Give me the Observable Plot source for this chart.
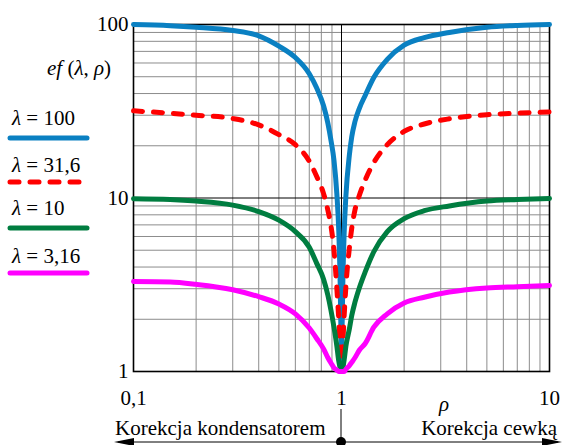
<!DOCTYPE html>
<html>
<head>
<meta charset="utf-8">
<script src="https://cdn.jsdelivr.net/npm/d3@7"></script>
<script src="https://cdn.jsdelivr.net/npm/@observablehq/plot@0.6"></script>
<style>
  html, body { margin: 0; padding: 0; background: #fff; }
  #chart { width: 562px; height: 445px; overflow: hidden; }
  #chart svg, #chart svg text, #chart svg tspan { font-family: "Liberation Serif", "DejaVu Serif", serif !important; }
</style>
</head>
<body>
<div id="chart"></div>
<script>
// ρ sample points
const rho = [0.1, 0.15, 0.2, 0.3, 0.4, 0.5, 0.6, 0.7, 0.76, 0.82, 0.86, 0.89, 0.92, 0.95, 0.97, 0.985, 0.995, 1,
             1.005, 1.015, 1.03, 1.05, 1.09, 1.12, 1.16, 1.22, 1.3, 1.43, 1.66, 2, 2.5, 3.3, 5, 7, 10];
// ef(λ, ρ) values for each λ
const efL100 = [100, 98.5, 96.5, 92.3, 86, 75, 64.5, 52, 43, 34, 27, 21.5, 16.5, 10.5, 6.5, 3.3, 1.6, 1,
                1.6, 3.3, 6.3, 10.3, 17.5, 22.5, 27.5, 33, 39, 49.5, 63, 76, 84, 90, 96.4, 98.8, 100];
const efL316 = [31.8, 30.8, 30.0, 28.7, 26.4, 23.2, 20.3, 16.3, 13.3, 10.6, 8.5, 6.9, 5.0, 3.0, 2.0, 1.4, 1.1, 1,
                1.1, 1.45, 2.1, 3.1, 5.1, 6.7, 8.5, 10.4, 12.7, 16, 20.3, 24.2, 26.7, 28.6, 30.2, 30.8, 31.3];
const efL10  = [9.9, 9.8, 9.6, 9.1, 8.35, 7.45, 6.4, 5.2, 4.2, 3.4, 2.75, 2.25, 1.8, 1.4, 1.15, 1.05, 1.01, 1,
                1.01, 1.05, 1.17, 1.4, 1.75, 2.1, 2.5, 3.05, 3.75, 4.9, 6.4, 7.6, 8.45, 9.0, 9.6, 9.8, 9.95];
const efL3   = [3.3, 3.28, 3.18, 2.96, 2.7, 2.45, 2.15, 1.78, 1.55, 1.35, 1.2, 1.12, 1.05, 1.02, 1.0, 1.0, 1.0, 1,
                1.0, 1.0, 1.0, 1.03, 1.08, 1.13, 1.2, 1.33, 1.45, 1.8, 2.15, 2.48, 2.68, 2.87, 3.03, 3.08, 3.13];

const legendLabels = ["100", "31,6", "10", "3,16"];
const xTicks = [0.1, 1, 10];
const xTickLabels = ["0,1", "1", "10"];
const yTicks = [1, 10, 100];
const yTickLabels = ["1", "10", "100"];
const xMinor = [0.2, 0.3, 0.4, 0.5, 0.6, 0.7, 0.8, 0.9, 2, 3, 4, 5, 6, 7, 8, 9];
const yMinor = [2, 3, 4, 5, 6, 7, 8, 9, 20, 30, 40, 50, 60, 70, 80, 90];

const colors = ["#0a80c2", "#ff0000", "#007d40", "#ff00ff"];
const dashes = [null, "9,11", null, null];
const seriesVals = [efL100, efL316, efL10, efL3];
const rows = seriesVals.map(vals => rho.map((r, i) => ({rho: r, ef: vals[i]})));

const font = "Liberation Serif, DejaVu Serif, serif";

const chart = Plot.plot({
  width: 562,
  height: 445,
  marginLeft: 133,
  marginRight: 13,
  marginTop: 24,
  marginBottom: 74,
  style: {fontSize: "21px", background: "#fff", color: "#000"},
  x: {type: "log", domain: [0.1, 10]},
  y: {type: "log", domain: [1, 100]},
  marks: [
    Plot.ruleX(xMinor, {stroke: "#8c8c8c", strokeWidth: 1}),
    Plot.ruleY(yMinor, {stroke: "#8c8c8c", strokeWidth: 1}),
    Plot.ruleX([1], {stroke: "#000", strokeWidth: 1}),
    Plot.ruleY([10], {stroke: "#000", strokeWidth: 1}),
    Plot.frame({stroke: "#000", strokeWidth: 1.6}),
    Plot.axisX(xTicks, {tickSize: 0, tickPadding: 19, tickFormat: d => xTickLabels[xTicks.indexOf(d)], fontSize: 21, label: null}),
    Plot.axisY(yTicks, {tickSize: 0, tickPadding: 5, tickFormat: d => yTickLabels[yTicks.indexOf(d)], fontSize: 21, label: null}),
    ...rows.map((data, k) => Plot.line(data, {
      x: "rho", y: "ef",
      curve: "monotone-x",
      stroke: colors[k],
      strokeWidth: 5,
      strokeLinecap: "round",
      strokeLinejoin: "round",
      strokeDasharray: dashes[k] ?? undefined
    }))
  ]
});

document.getElementById("chart").appendChild(chart);

// annotations: y label, legend, x label, bottom correction arrow
const svg = d3.select(chart);
const g = svg.append("g")
  .attr("font-family", font).attr("font-size", 21)
  .attr("fill", "#000").attr("text-anchor", "start");

const yl = g.append("text").attr("x", 47).attr("y", 75);
yl.append("tspan").attr("font-style", "italic").text("ef");
yl.append("tspan").text(" (");
yl.append("tspan").attr("font-style", "italic").text("λ");
yl.append("tspan").text(", ");
yl.append("tspan").attr("font-style", "italic").text("ρ");
yl.append("tspan").text(")");

const legTextY = [125, 172, 215, 263];
const legLineY = [138, 182, 228, 273];
legendLabels.forEach((lab, k) => {
  const t = g.append("text").attr("x", 12).attr("y", legTextY[k]);
  t.append("tspan").attr("font-style", "italic").text("λ");
  t.append("tspan").text(" = " + lab);
  const ln = g.append("line")
    .attr("x1", 10).attr("x2", 87)
    .attr("y1", legLineY[k]).attr("y2", legLineY[k])
    .attr("stroke", colors[k]).attr("stroke-width", 5).attr("stroke-linecap", "round");
  if (dashes[k]) ln.attr("stroke-dasharray", dashes[k]);
});

g.append("text").attr("x", 444).attr("y", 411).attr("text-anchor", "middle")
  .attr("font-style", "italic").text("ρ");

g.append("text").attr("x", 115).attr("y", 435).attr("text-anchor", "start").text("Korekcja kondensatorem");
g.append("text").attr("x", 557).attr("y", 435).attr("text-anchor", "end").text("Korekcja cewką");

g.append("line").attr("x1", 118).attr("x2", 558).attr("y1", 442).attr("y2", 442)
  .attr("stroke", "#000").attr("stroke-width", 1);
g.append("path").attr("d", "M114,442 L134,438 L134,446 Z").attr("fill", "#000");
g.append("path").attr("d", "M562,442 L542,438 L542,446 Z").attr("fill", "#000");
g.append("line").attr("x1", 341).attr("x2", 341).attr("y1", 409).attr("y2", 442)
  .attr("stroke", "#000").attr("stroke-width", 1);
g.append("circle").attr("cx", 341).attr("cy", 442).attr("r", 5).attr("fill", "#000");
</script>
</body>
</html>
